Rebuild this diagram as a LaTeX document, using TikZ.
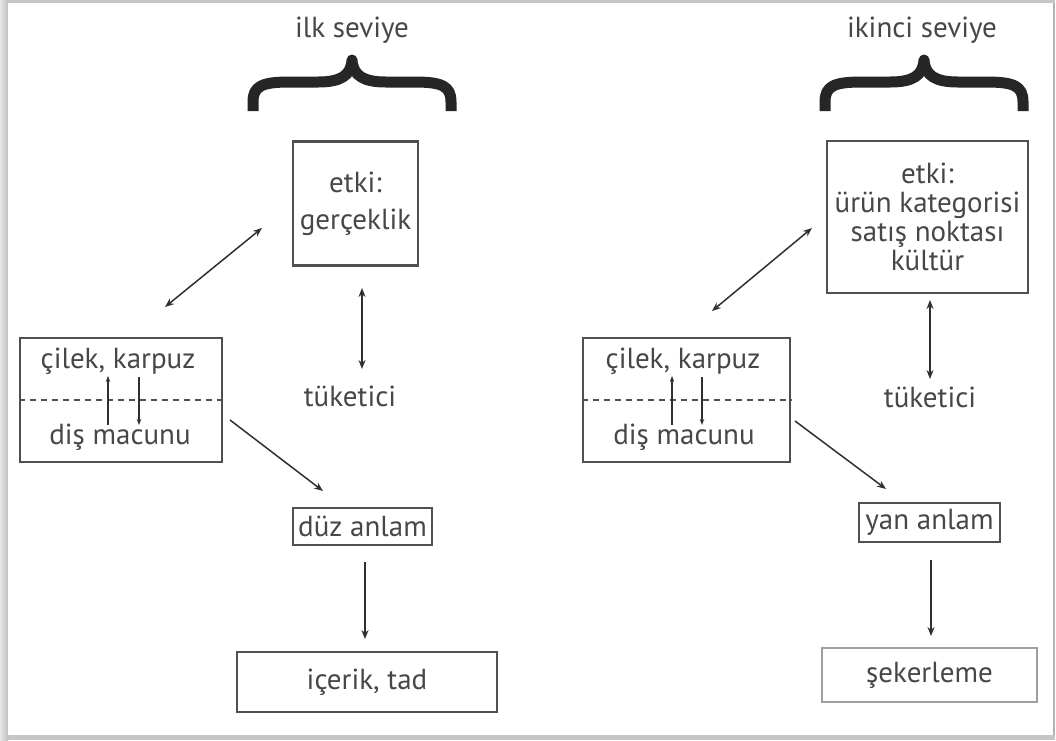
\documentclass[tikz,border=0pt]{standalone}
\usepackage{fontspec}
\setmainfont{PT Sans}
\usetikzlibrary{arrows.meta}
\definecolor{ink}{HTML}{474747}
\definecolor{edge}{HTML}{505050}
\definecolor{arr}{HTML}{303030}
\tikzset{
  lbl/.style={text=ink, font=\fontsize{29}{29}\selectfont, inner sep=0pt},
  boxed/.style={draw=edge, line width=2.6pt, inner sep=0pt, text=ink,
                font=\fontsize{29}{29}\selectfont, align=center},
  link/.style={draw=arr, line width=1.5pt, -{Stealth[length=9pt,width=7pt]}},
  both/.style={link, {Stealth[length=9pt,width=7pt]}-{Stealth[length=9pt,width=7pt]}},
  tiny/.style={draw=arr, line width=1.6pt, -{Stealth[length=6pt,width=4.5pt]}},
  brace/.style={draw=black!85, line width=11pt, line join=round},
}
\begin{document}
\begin{tikzpicture}[x=1pt,y=-1pt]
\useasboundingbox (0,0) rectangle (1056,740);
% page with its frame
\fill[gray!45] (0,0) rectangle (1056,740);
\shade[left color=gray!20, right color=gray!50] (0,0) rectangle (8,740);
\fill[white] (8,3) rectangle (1053,735);
\fill[gray!60] (1053,3) rectangle (1054.5,735);
\fill[white] (1054.5,0) rectangle (1056,740);

% ---------- first level ----------
\node[lbl] (t1) at (352,30) {ilk seviye};
\draw[brace] (253,111) -- (253,102) .. controls (253,86) and (262,82) .. (290,82)
  -- (318,82) .. controls (340,82) and (351,76) .. (352,60)
  .. controls (353,76) and (364,82) .. (386,82)
  -- (414,82) .. controls (442,82) and (451,86) .. (451,102) -- (451,111);

\node[boxed, minimum width=125pt, minimum height=124pt] (e1) at (355.5,203.5)
  {etki:\\[8pt]gerçeklik};
\node[lbl] (k1) at (350,396) {tüketici};
\node[boxed, minimum width=202pt, minimum height=124pt] (c1) at (121,400) {};
\draw[edge, line width=1.6pt, dash pattern=on 6pt off 5pt] (c1.west) -- (c1.east);
\node[lbl] (c1a) at (118,361) {çilek, karpuz};
\node[lbl] (c1b) at (120,437) {diş macunu};
\coordinate (u1a) at (108,425); \coordinate (u1b) at (108,376);
\coordinate (d1a) at (139,377); \coordinate (d1b) at (139,425);
\draw[tiny] (u1a) -- (u1b);
\draw[tiny] (d1a) -- (d1b);
\node[boxed, minimum width=139pt, minimum height=37pt] (z1) at (362.5,526.5) {düz anlam};
\node[boxed, minimum width=260pt, minimum height=60pt] (i1) at (367,682) {içerik, tad};

\coordinate (a1s) at (165,307); \coordinate (a1e) at (262,228);
\draw[both] (a1s) -- (a1e);
\coordinate (v1s) at (362,288); \coordinate (v1e) at (362,369);
\draw[both] (v1s) -- (v1e);
\coordinate (o1s) at (230,420); \coordinate (o1e) at (323,491);
\draw[link] (o1s) -- (o1e);
\coordinate (w1s) at (365,562); \coordinate (w1e) at (365,639);
\draw[link] (w1s) -- (w1e);

% ---------- second level ----------
\node[lbl] (t2) at (922,30) {ikinci seviye};
\draw[brace] (825,111) -- (825,102) .. controls (825,86) and (834,82) .. (862,82)
  -- (890,82) .. controls (912,82) and (923,76) .. (924,60)
  .. controls (925,76) and (936,82) .. (958,82)
  -- (986,82) .. controls (1014,82) and (1023,86) .. (1023,102) -- (1023,111);

\node[boxed, minimum width=201pt, minimum height=152pt] (e2) at (927.5,217)
  {etki:\\ürün kategorisi\\satış noktası\\kültür};
\node[lbl] (k2) at (930,397) {tüketici};
\node[boxed, minimum width=207pt, minimum height=124pt] (c2) at (686.5,400) {};
\draw[edge, line width=1.6pt, dash pattern=on 6pt off 5pt] (c2.west) -- (c2.east);
\node[lbl] (c2a) at (683,361) {çilek, karpuz};
\node[lbl] (c2b) at (684,437) {diş macunu};
\coordinate (u2a) at (672,425); \coordinate (u2b) at (672,376);
\coordinate (d2a) at (702,377); \coordinate (d2b) at (702,425);
\draw[tiny] (u2a) -- (u2b);
\draw[tiny] (d2a) -- (d2b);
\node[boxed, minimum width=141pt, minimum height=39pt] (y2) at (929.5,522.5) {yan anlam};
\node[boxed, draw=gray!75, line width=2.2pt, minimum width=215pt, minimum height=54pt]
  (s2) at (929.5,675) {şekerleme};

\coordinate (a2s) at (712,311); \coordinate (a2e) at (812,228);
\draw[both] (a2s) -- (a2e);
\coordinate (v2s) at (930,300); \coordinate (v2e) at (930,379);
\draw[both] (v2s) -- (v2e);
\coordinate (o2s) at (795,421); \coordinate (o2e) at (886,489);
\draw[link] (o2s) -- (o2e);
\coordinate (w2s) at (931,560); \coordinate (w2e) at (931,636);
\draw[link] (w2s) -- (w2e);
\end{tikzpicture}
\end{document}
